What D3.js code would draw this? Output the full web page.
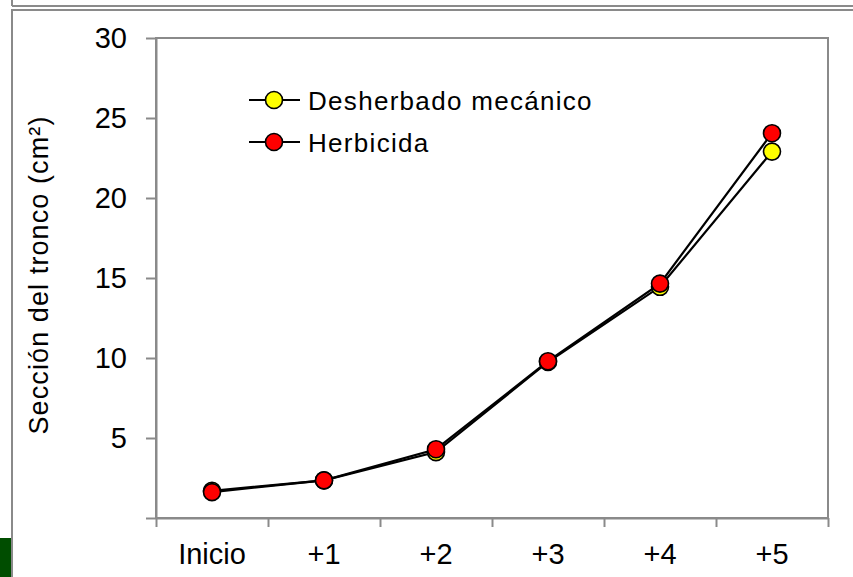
<!DOCTYPE html>
<html>
<head>
<meta charset="utf-8">
<script src="https://cdn.jsdelivr.net/npm/d3@7"></script>
<style>
  html, body { margin: 0; padding: 0; background: #fff; }
  svg { display: block; font-family: "Liberation Sans", Arial, sans-serif; }
</style>
</head>
<body>
<svg id="chart" width="853" height="577"></svg>
<script>
// Trunk cross-section per year for two weed-control treatments
const categories = ["Inicio", "+1", "+2", "+3", "+4", "+5"];
const mecanico   = [1.7, 2.35, 4.12, 9.75, 14.45, 22.9];
const herbicida  = [1.62, 2.35, 4.3, 9.8, 14.65, 24.05];
const yTicks     = [0, 5, 10, 15, 20, 25, 30];
const seriesNames = ["Desherbado mecánico", "Herbicida"];
const seriesFill  = ["#ffff00", "#ff0000"];

(function () {
const svg = d3.select("#chart");
const frame = "#8a8a8a";

// Page frame pieces
svg.append("line").attr("x1", 12).attr("x2", 853).attr("y1", 6).attr("y2", 6)
  .attr("stroke", frame).attr("stroke-width", 2);
svg.append("line").attr("x1", 12).attr("x2", 12).attr("y1", 0).attr("y2", 6)
  .attr("stroke", frame).attr("stroke-width", 2);
svg.append("path").attr("d", "M12,577V10H853")
  .attr("fill", "none").attr("stroke", frame).attr("stroke-width", 2);
svg.append("rect").attr("x", 0).attr("y", 538).attr("width", 11).attr("height", 39)
  .attr("fill", "#004d00");

const pLeft = 156, pRight = 828, pTop = 38, pBottom = 518;

const x = d3.scaleBand().domain(categories).range([pLeft, pRight]).padding(0);
const xEdge = d3.scaleLinear().domain([0, categories.length]).range([pLeft, pRight]);
const y = d3.scaleLinear().domain([0, 30]).range([pBottom, pTop]);

// Plot box
svg.append("rect").attr("x", pLeft).attr("y", pTop)
  .attr("width", pRight - pLeft).attr("height", pBottom - pTop)
  .attr("fill", "none").attr("stroke", frame).attr("stroke-width", 2);

// Y axis
const yAxis = svg.append("g").attr("transform", `translate(${pLeft},0)`)
  .call(d3.axisLeft(y).tickValues(yTicks).tickSize(10).tickSizeOuter(0)
    .tickPadding(19).tickFormat(d => d === 0 ? "" : d));
yAxis.select(".domain").attr("stroke", frame).attr("stroke-width", 2);
yAxis.selectAll(".tick line").attr("stroke", frame).attr("stroke-width", 2);
yAxis.selectAll(".tick text").attr("fill", "#000")
  .style("font-size", "29px").style("font-family", "'Liberation Sans', Arial, sans-serif");

// X axis: ticks at category boundaries
const xTickAxis = svg.append("g").attr("transform", `translate(0,${pBottom})`)
  .call(d3.axisBottom(xEdge).tickValues(d3.range(categories.length + 1))
    .tickSize(9).tickSizeOuter(0).tickFormat(""));
xTickAxis.select(".domain").attr("stroke", frame).attr("stroke-width", 2);
xTickAxis.selectAll(".tick line").attr("stroke", frame).attr("stroke-width", 2);

const xLabelAxis = svg.append("g").attr("transform", `translate(0,${pBottom})`)
  .call(d3.axisBottom(x).tickSize(0).tickPadding(25));
xLabelAxis.select(".domain").remove();
xLabelAxis.selectAll(".tick text").attr("fill", "#000")
  .style("font-size", "29px").style("font-family", "'Liberation Sans', Arial, sans-serif");

// Y axis title
svg.append("text")
  .attr("transform", `translate(48,${(pTop + pBottom) / 2 - 3}) rotate(-90)`)
  .attr("text-anchor", "middle")
  .style("font-size", "27px").style("letter-spacing", "1.1px")
  .text("Sección del tronco (cm²)");

// Series
const line = d3.line().x((d, i) => x(categories[i]) + x.bandwidth() / 2).y(d => y(d));
[mecanico, herbicida].forEach((vals, s) => {
  svg.append("path").attr("d", line(vals))
    .attr("fill", "none").attr("stroke", "#000").attr("stroke-width", 2.2);
  svg.selectAll(null).data(vals).enter().append("circle")
    .attr("cx", (d, i) => x(categories[i]) + x.bandwidth() / 2)
    .attr("cy", d => y(d))
    .attr("r", 8.5)
    .attr("fill", seriesFill[s]).attr("stroke", "#000").attr("stroke-width", 1.6);
});

// Legend
const legendY = [100, 142];
seriesNames.forEach((name, s) => {
  const g = svg.append("g").attr("transform", `translate(0,${legendY[s]})`);
  g.append("line").attr("x1", 249).attr("x2", 300).attr("y1", 0).attr("y2", 0)
    .attr("stroke", "#000").attr("stroke-width", 2);
  g.append("circle").attr("cx", 274).attr("cy", 0).attr("r", 8.5)
    .attr("fill", seriesFill[s]).attr("stroke", "#000").attr("stroke-width", 1.6);
  g.append("text").attr("x", 308).attr("y", 9.5)
    .style("font-size", "26px").style("letter-spacing", "1.3px")
    .text(name);
});
})();
</script>
</body>
</html>
